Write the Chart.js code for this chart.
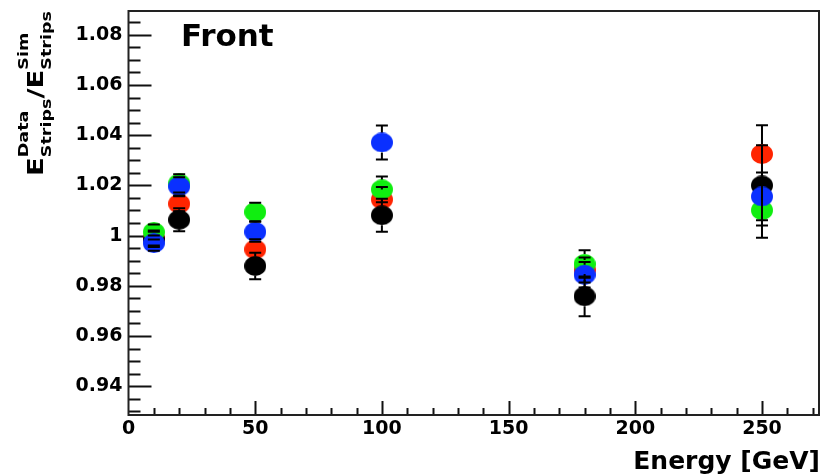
<!DOCTYPE html>
<html>
<head>
<meta charset="utf-8">
<script src="https://cdn.jsdelivr.net/npm/chart.js@4.4.1/dist/chart.umd.min.js"></script>
<style>
  html, body { margin: 0; padding: 0; background: #fff; }
</style>
</head>
<body>
<canvas id="chart" width="830" height="476"></canvas>
<script>
// beam energies [GeV]
const energy = [10, 20, 50, 100, 180, 250];

// strip energy ratio data/sim, one array per sample
const redRatio   = [0.9990, 1.0127, 0.9945, 1.0144, 0.9863, 1.0325];
const blackRatio = [0.9985, 1.0063, 0.9879, 1.0081, 0.9758, 1.0200];
const greenRatio = [1.0014, 1.0208, 1.0094, 1.0184, 0.9887, 1.0101];
const blueRatio  = [0.9970, 1.0196, 1.0015, 1.0371, 0.9844, 1.0156];

// symmetric errors on the ratios
const redErr   = [0.003, 0.003, 0.004, 0.005, 0.005, 0.0115];
const blackErr = [0.003, 0.0046, 0.0053, 0.0066, 0.0079, 0.016];
const greenErr = [0.003, 0.0036, 0.0037, 0.0051, 0.0055, 0.011];
const blueErr  = [0.003, 0.0036, 0.004, 0.0068, 0.0051, 0.0095];

// axis ticks
const xTicks = [0, 50, 100, 150, 200, 250];
const yTicks = [0.94, 0.96, 0.98, 1.00, 1.02, 1.04, 1.06, 1.08];

const X_MIN = 0, X_MAX = 272.5;
const Y_MIN = 0.9285, Y_MAX = 1.0895;

const FONT = '"DejaVu Sans", sans-serif';
Chart.defaults.font.family = FONT;

// filled round marker
function makeMarker(color) {
  const c = document.createElement('canvas');
  c.width = 22;
  c.height = 20;
  const g = c.getContext('2d');
  g.fillStyle = color;
  g.beginPath();
  g.ellipse(11, 10, 11, 10, 0, 0, Math.PI * 2);
  g.fill();
  return c;
}

function toPoints(vals) {
  return energy.map((e, i) => ({ x: e, y: vals[i] }));
}

// ticks pointing into the frame + frame box
const frame = {
  id: 'frame',
  beforeDatasetsDraw(chart) {
    const { ctx, chartArea: a, scales: { x, y } } = chart;
    ctx.save();
    ctx.strokeStyle = '#111';
    ctx.lineWidth = 2;
    ctx.beginPath();
    for (let v = 0.93; v < Y_MAX; v += 0.005) {
      const major = yTicks.some(t => Math.abs(t - v) < 1e-6);
      const py = Math.round(y.getPixelForValue(v)) + 0.5;
      ctx.moveTo(a.left, py);
      ctx.lineTo(a.left + (major ? 23 : 12), py);
    }
    for (let v = 10; v < X_MAX; v += 10) {
      const major = v % 50 === 0;
      const px = Math.round(x.getPixelForValue(v)) + 0.5;
      ctx.moveTo(px, a.bottom);
      ctx.lineTo(px, a.bottom - (major ? 14 : 7));
    }
    ctx.stroke();
    ctx.strokeStyle = '#222';
    ctx.strokeRect(a.left, a.top, a.right - a.left, a.bottom - a.top);
    ctx.restore();
  }
};

// vertical error bars with end caps
const errorBars = {
  id: 'errorBars',
  afterDatasetsDraw(chart) {
    const { ctx, scales: { x, y } } = chart;
    ctx.save();
    ctx.strokeStyle = '#000';
    ctx.lineWidth = 2;
    chart.data.datasets.forEach(ds => {
      ds.data.forEach((p, i) => {
        const px = x.getPixelForValue(p.x);
        const py = y.getPixelForValue(p.y);
        const top = y.getPixelForValue(p.y + ds.errors[i]);
        const bot = y.getPixelForValue(p.y - ds.errors[i]);
        const r = 10;
        ctx.beginPath();
        if (py - top > r) {
          ctx.moveTo(px, py - r);
          ctx.lineTo(px, top);
        }
        if (bot - py > r) {
          ctx.moveTo(px, py + r);
          ctx.lineTo(px, bot);
        }
        ctx.moveTo(px - 6, top);
        ctx.lineTo(px + 6, top);
        ctx.moveTo(px - 6, bot);
        ctx.lineTo(px + 6, bot);
        ctx.stroke();
      });
    });
    ctx.restore();
  }
};

// titles and the "Front" label
const labels = {
  id: 'labels',
  afterDraw(chart) {
    const { ctx } = chart;
    ctx.save();
    ctx.fillStyle = '#000';

    ctx.font = 'bold 31px ' + FONT;
    ctx.textBaseline = 'alphabetic';
    ctx.textAlign = 'left';
    ctx.fillText('Front', 181, 46);

    ctx.font = 'bold 25px ' + FONT;
    ctx.textAlign = 'right';
    ctx.fillText('Energy [GeV]', 820, 469);

    // E^Data_Strips / E^Sim_Strips, rotated
    const big = 'bold 22px ' + FONT;
    const small = 'bold 14px ' + FONT;
    ctx.font = big;
    const wE = ctx.measureText('E').width;
    const wSlash = ctx.measureText('/').width;
    ctx.font = small;
    const w1 = Math.max(ctx.measureText('Data').width, ctx.measureText('Strips').width);
    const w2 = Math.max(ctx.measureText('Sim').width, ctx.measureText('Strips').width);
    const len = wE + w1 + wSlash + wE + w2;
    const k = 165 / len;

    ctx.translate(43, 176);
    ctx.rotate(-Math.PI / 2);
    ctx.scale(k, 1);
    ctx.textAlign = 'left';
    let pos = 0;
    ctx.font = big;
    ctx.fillText('E', pos, 0);
    pos += wE;
    ctx.font = small;
    ctx.fillText('Data', pos, -15);
    ctx.fillText('Strips', pos, 8);
    pos += w1;
    ctx.font = big;
    ctx.fillText('/', pos, 0);
    pos += wSlash;
    ctx.fillText('E', pos, 0);
    pos += wE;
    ctx.font = small;
    ctx.fillText('Sim', pos, -15);
    ctx.fillText('Strips', pos, 8);
    ctx.restore();
  }
};

// first dataset ends up on top
const chart = new Chart(document.getElementById('chart'), {
  type: 'scatter',
  data: {
    datasets: [
      { label: 'blue', data: toPoints(blueRatio), errors: blueErr, pointStyle: makeMarker('#0a30ff') },
      { label: 'green', data: toPoints(greenRatio), errors: greenErr, pointStyle: makeMarker('#10ee10') },
      { label: 'black', data: toPoints(blackRatio), errors: blackErr, pointStyle: makeMarker('#000000') },
      { label: 'red', data: toPoints(redRatio), errors: redErr, pointStyle: makeMarker('#ff2400') }
    ]
  },
  options: {
    responsive: false,
    animation: false,
    events: [],
    layout: { padding: { top: 10, right: 9, left: 0, bottom: 0 } },
    elements: { point: { radius: 10 } },
    plugins: { legend: { display: false }, tooltip: { enabled: false } },
    scales: {
      x: {
        type: 'linear',
        min: X_MIN,
        max: X_MAX,
        grid: { display: false, drawTicks: false },
        border: { display: false },
        afterBuildTicks: s => { s.ticks = xTicks.map(v => ({ value: v })); },
        afterFit: s => {
          s.height = 61;
          s.paddingLeft = 0;
          s.paddingRight = 0;
        },
        ticks: {
          color: '#000',
          padding: 3,
          maxRotation: 0,
          font: { size: 19, weight: 'bold' },
          callback: v => String(v)
        }
      },
      y: {
        type: 'linear',
        min: Y_MIN,
        max: Y_MAX,
        grid: { display: false, drawTicks: false },
        border: { display: false },
        afterBuildTicks: s => { s.ticks = yTicks.map(v => ({ value: v })); },
        afterFit: s => {
          s.width = 128.5;
          s.paddingTop = 0;
          s.paddingBottom = 0;
        },
        ticks: {
          color: '#000',
          padding: 6,
          font: { size: 19, weight: 'bold' },
          callback: v => String(+v.toFixed(2))
        }
      }
    }
  },
  plugins: [frame, errorBars, labels]
});
</script>
</body>
</html>
